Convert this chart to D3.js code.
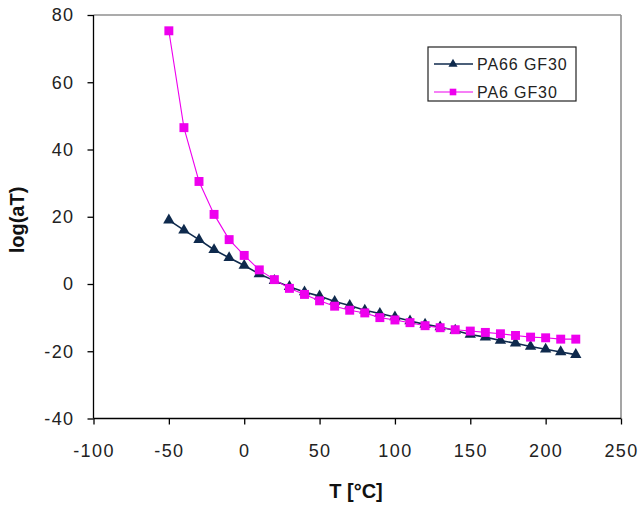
<!DOCTYPE html>
<html>
<head>
<meta charset="utf-8">
<script src="https://cdn.jsdelivr.net/npm/d3@7"></script>
<style>
  html, body { margin: 0; padding: 0; background: #fff; }
  svg { display: block; font-family: "Liberation Sans", Arial, sans-serif; }
</style>
</head>
<body>
<svg id="chart" width="640" height="506"></svg>
<script>
// Temperature (°C)
const temps = [-50, -40, -30, -20, -10, 0, 10, 20, 30, 40, 50, 60, 70, 80, 90,
               100, 110, 120, 130, 140, 150, 160, 170, 180, 190, 200, 210, 220];
// Shift factor log(aT) per material
const pa66 = [19.0, 16.0, 13.2, 10.2, 7.8, 5.5, 3.0, 1.0, -0.8, -2.4, -3.6, -5.2, -6.4, -7.8, -8.8,
              -9.8, -11.0, -12.0, -12.8, -13.8, -15.0, -15.8, -16.8, -17.6, -18.6, -19.4, -20.2, -21.0];
const pa6  = [75.3, 46.5, 30.5, 20.7, 13.2, 8.5, 4.2, 1.3, -1.3, -3.1, -5.0, -6.6, -7.8, -8.6, -10.0,
              -10.7, -11.5, -12.4, -13.0, -13.6, -14.0, -14.4, -14.8, -15.3, -15.8, -16.0, -16.4, -16.4];
const seriesNames = ["PA66 GF30", "PA6 GF30"];
const xTicks = [-100, -50, 0, 50, 100, 150, 200, 250];
const yTicks = [-40, -20, 0, 20, 40, 60, 80];

const svg = d3.select("#chart");
const plotLeft = 93.5, plotRight = 621, plotTop = 15, plotBottom = 418.5;

const x = d3.scaleLinear().domain([-100, 250]).range([plotLeft, plotRight]);
const y = d3.scaleLinear().domain([-40, 80]).range([plotBottom, plotTop]);

// plain hyphen-minus for negative tick labels
const fmt = d => String(d);

// top and right frame lines
svg.append("line").attr("x1", plotLeft).attr("x2", plotRight).attr("y1", plotTop).attr("y2", plotTop)
  .attr("stroke", "#8f8f8f").attr("stroke-width", 1.6);
svg.append("line").attr("x1", plotRight).attr("x2", plotRight).attr("y1", plotTop).attr("y2", plotBottom)
  .attr("stroke", "#8f8f8f").attr("stroke-width", 1.6);

// axes
const xAxis = svg.append("g").attr("transform", `translate(0,${plotBottom})`)
  .call(d3.axisBottom(x).tickValues(xTicks).tickSize(6).tickPadding(20).tickFormat(fmt));
const yAxis = svg.append("g").attr("transform", `translate(${plotLeft},0)`)
  .call(d3.axisLeft(y).tickValues(yTicks).tickSize(6).tickPadding(13).tickFormat(fmt));

[xAxis, yAxis].forEach(g => {
  g.select(".domain").attr("stroke", "#000").attr("stroke-width", 1.3);
  g.selectAll(".tick line").attr("stroke", "#000").attr("stroke-width", 1.3);
  g.selectAll(".tick text").attr("fill", "#222").style("font-size", "18px")
    .style("font-family", "'Liberation Sans', Arial, sans-serif")
    .style("letter-spacing", "1.4px");
});
xAxis.selectAll(".domain").attr("d", `M${plotLeft},0H${plotRight}`);
yAxis.selectAll(".domain").attr("d", `M0,${plotBottom}V${plotTop}`);

// axis titles
svg.append("text").attr("x", 356).attr("y", 498).attr("text-anchor", "middle")
  .style("font-size", "20px").style("font-weight", "bold").attr("fill", "#111")
  .text("T [°C]");
svg.append("text").attr("transform", "translate(24,220) rotate(-90)").attr("text-anchor", "middle")
  .style("font-size", "20px").style("font-weight", "bold").attr("fill", "#111")
  .text("log(aT)");

const styles = [
  { values: pa66, color: "#0f2a4d", width: 1.6, symbol: d3.symbolTriangle, size: 56, legendSize: 36 },
  { values: pa6,  color: "#ee00ee", width: 1.1, symbol: d3.symbolSquare,   size: 80, legendSize: 44 }
];

const line = d3.line().x(d => x(d[0])).y(d => y(d[1]));

styles.forEach(s => {
  const pts = temps.map((t, i) => [t, s.values[i]]);
  svg.append("path").datum(pts).attr("d", line)
    .attr("fill", "none").attr("stroke", s.color).attr("stroke-width", s.width);
  svg.append("g").selectAll("path").data(pts).join("path")
    .attr("transform", d => `translate(${x(d[0])},${y(d[1])})`)
    .attr("d", d3.symbol().type(s.symbol).size(s.size))
    .attr("fill", s.color);
});

// legend
const lg = svg.append("g");
lg.append("rect").attr("x", 428).attr("y", 47).attr("width", 148).attr("height", 54)
  .attr("fill", "#fff").attr("stroke", "#222").attr("stroke-width", 1.2);
styles.forEach((s, i) => {
  const cy = 64 + i * 28;
  lg.append("line").attr("x1", 434).attr("x2", 473).attr("y1", cy).attr("y2", cy)
    .attr("stroke", s.color).attr("stroke-width", s.width);
  lg.append("path").attr("transform", `translate(453,${cy})`)
    .attr("d", d3.symbol().type(s.symbol).size(s.legendSize)).attr("fill", s.color);
  lg.append("text").attr("x", 477).attr("y", cy + 5.5)
    .style("font-size", "16px").style("letter-spacing", "0.9px").attr("fill", "#222")
    .text(seriesNames[i]);
});
</script>
</body>
</html>
